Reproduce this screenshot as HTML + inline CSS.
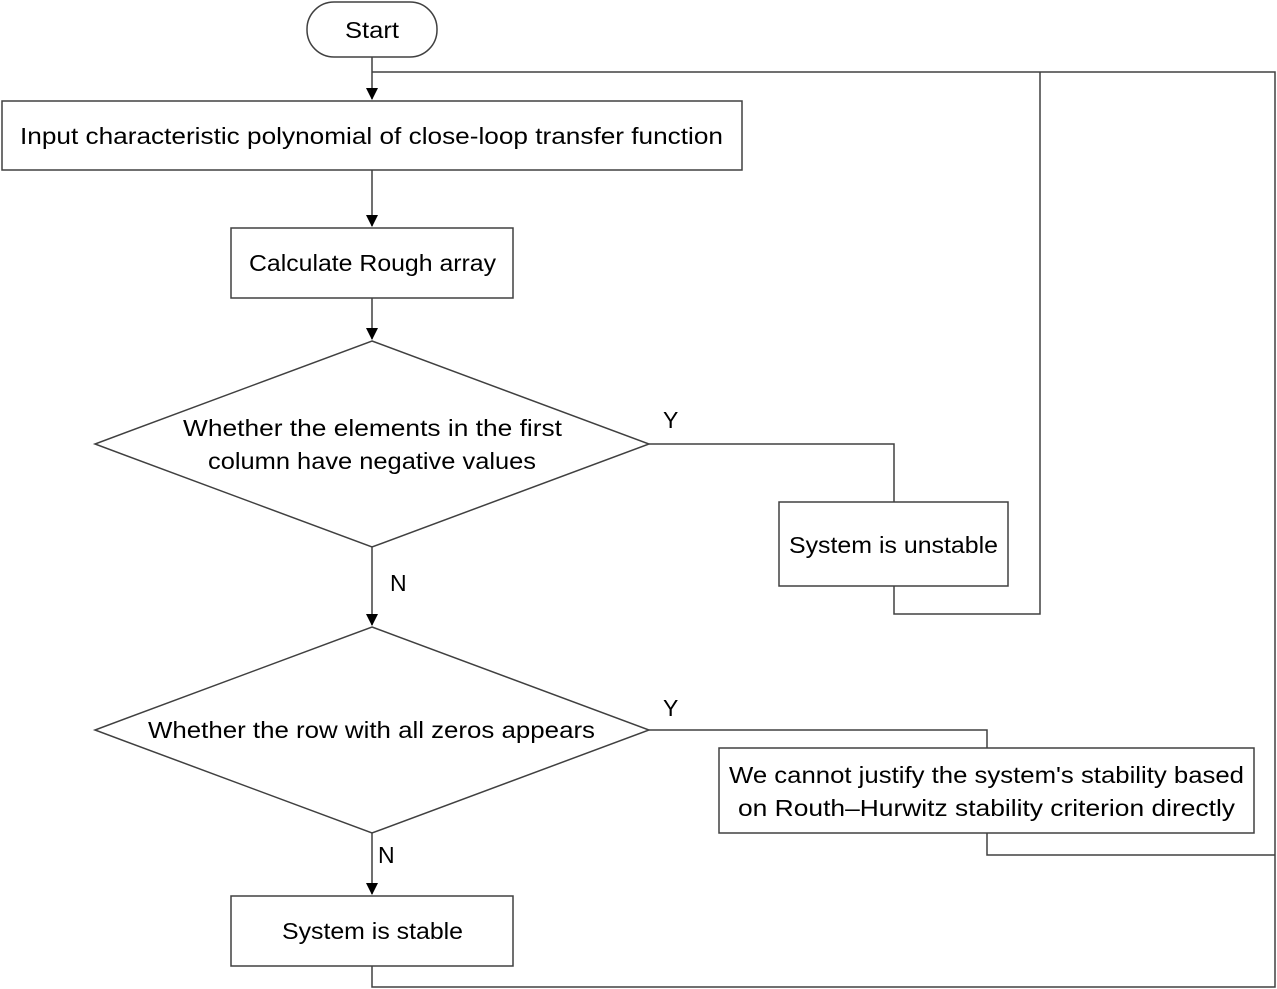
<!DOCTYPE html>
<html><head><meta charset="utf-8"><style>
html,body{margin:0;padding:0;background:#fff;}
svg{display:block;}
text{font-family:"Liberation Sans",sans-serif;font-size:23px;fill:#000;}
</style></head><body>
<svg width="1277" height="989" viewBox="0 0 1277 989" xmlns="http://www.w3.org/2000/svg">
<defs><marker id="a" markerWidth="12" markerHeight="14" refX="6" refY="12" orient="auto-start-reverse" markerUnits="userSpaceOnUse" viewBox="0 0 12 14"><path d="M0,0 L12,0 L6,12 Z" fill="#000" transform="rotate(0)"/></marker></defs>
<g stroke="#404040" stroke-width="1.5" fill="none">
<rect x="307" y="2" width="130" height="55" rx="27" fill="#fff"/>
<rect x="2" y="101" width="740" height="69" fill="#fff"/>
<rect x="231" y="228" width="282" height="70" fill="#fff"/>
<polygon points="372,341 649,444 372,547 95,444" fill="#fff"/>
<rect x="779" y="502" width="229" height="84" fill="#fff"/>
<polygon points="372,627 649,730 372,833 95,730" fill="#fff"/>
<rect x="719" y="748" width="535" height="85" fill="#fff"/>
<rect x="231" y="896" width="282" height="70" fill="#fff"/>
<!-- connectors -->
<path d="M372,57 V99"/>
<path d="M372,72 H1275 V987 H372 V966"/>
<path d="M372,170 V226"/>
<path d="M372,298 V339"/>
<path d="M372,547 V625"/>
<path d="M372,833 V894"/>
<path d="M649,444 H894 V502"/>
<path d="M894,586 V614 H1040 V72"/>
<path d="M649,730 H987 V748"/>
<path d="M987,833 V855 H1275"/>
</g>
<g fill="#000">
<path d="M366,88 L378,88 L372,100 Z"/>
<path d="M366,215 L378,215 L372,227 Z"/>
<path d="M366,328 L378,328 L372,340 Z"/>
<path d="M366,614 L378,614 L372,626 Z"/>
<path d="M366,883 L378,883 L372,895 Z"/>
</g>
<text x="372" y="38" text-anchor="middle" textLength="54" lengthAdjust="spacingAndGlyphs">Start</text>
<text x="20" y="144" textLength="703" lengthAdjust="spacingAndGlyphs">Input characteristic polynomial of close-loop transfer function</text>
<text x="249" y="271" textLength="247" lengthAdjust="spacingAndGlyphs">Calculate Rough array</text>
<text x="183" y="436" textLength="379" lengthAdjust="spacingAndGlyphs">Whether the elements in the first</text>
<text x="208" y="469" textLength="328" lengthAdjust="spacingAndGlyphs">column have negative values</text>
<text x="789" y="553" textLength="209" lengthAdjust="spacingAndGlyphs">System is unstable</text>
<text x="148" y="738" textLength="447" lengthAdjust="spacingAndGlyphs">Whether the row with all zeros appears</text>
<text x="729" y="783" textLength="515" lengthAdjust="spacingAndGlyphs">We cannot justify the system's stability based</text>
<text x="738" y="816" textLength="497" lengthAdjust="spacingAndGlyphs">on Routh–Hurwitz stability criterion directly</text>
<text x="282" y="939" textLength="181" lengthAdjust="spacingAndGlyphs">System is stable</text>
<text x="663" y="428">Y</text>
<text x="663" y="716">Y</text>
<text x="390" y="591">N</text>
<text x="378" y="863">N</text>
</svg>
</body></html>
